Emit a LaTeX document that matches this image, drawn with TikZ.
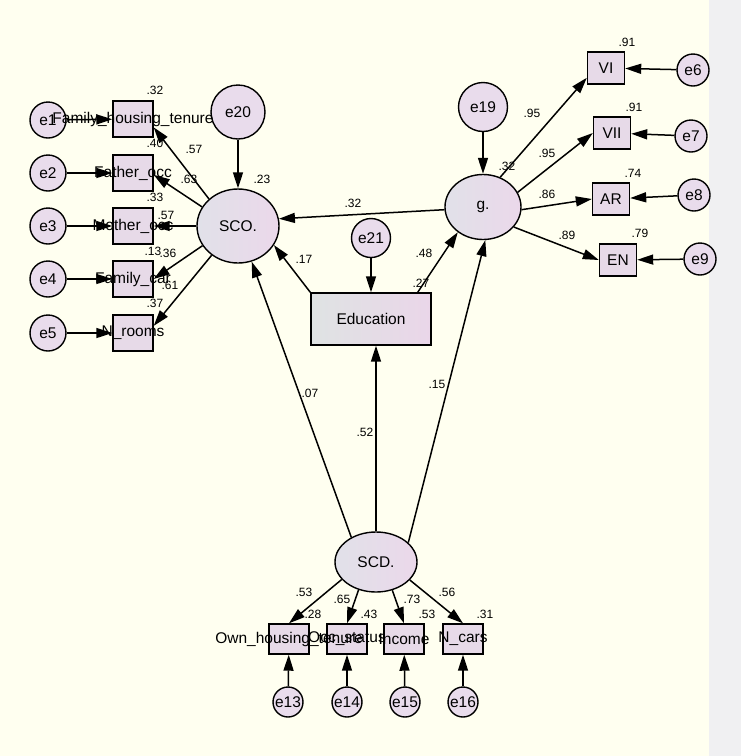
\documentclass[tikz,border=0pt]{standalone}
\usepackage{fontspec}
\setmainfont{Liberation Sans}
\usetikzlibrary{arrows.meta,shapes.geometric,calc}
\definecolor{bgy}{HTML}{FFFFF0}
\definecolor{bgg}{HTML}{F0F0F2}
\definecolor{latL}{HTML}{E1E1E9}
\definecolor{latR}{HTML}{EBD8EA}
\definecolor{boxL}{HTML}{DFE3E3}
\definecolor{boxR}{HTML}{EAD6E9}
\definecolor{errC}{HTML}{E9DCEC}
\definecolor{obsC}{HTML}{E7DAE8}
\begin{document}
\begin{tikzpicture}[x=1pt,y=-1pt,
  every node/.style={font=\fontsize{15.5}{18}\selectfont, inner sep=0pt},
  err/.style={circle,draw,line width=1.4pt,fill=errC,minimum size=#1},
  obsbox/.style={rectangle,draw,line width=1.4pt,fill=obsC},
  lat/.style={ellipse,draw,line width=1.4pt,left color=latL,right color=latR},
  arr/.style={-{Triangle[length=16pt,width=10pt]},line width=1.5pt},
  lbl/.style={font=\fontsize{12}{14}\selectfont}
]
\fill[bgy] (0,0) rectangle (709,756);
\fill[bgg] (709,0) rectangle (741,756);
\useasboundingbox (0,0) rectangle (741,756);

% error terms
\node[err=36] (e1) at (48,120) {e1};
\node[err=36] (e2) at (48,173) {e2};
\node[err=36] (e3) at (48,226) {e3};
\node[err=36] (e4) at (48,279) {e4};
\node[err=36] (e5) at (48,333) {e5};
\node[err=54] (e20) at (238,112) {e20};
\node[err=39] (e21) at (371,238) {e21};
\node[err=49] (e19) at (483,107) {e19};
\node[err=32] (e6) at (693,70) {e6};
\node[err=32] (e7) at (691,136) {e7};
\node[err=32] (e8) at (694,195) {e8};
\node[err=32] (e9) at (700,259) {e9};
\node[err=30] (e13) at (288,702) {e13};
\node[err=30] (e14) at (347,702) {e14};
\node[err=30] (e15) at (405,702) {e15};
\node[err=30] (e16) at (463,702) {e16};

% observed boxes (shapes)
\begin{scope}[every node/.append style={obsbox,minimum width=40pt,minimum height=36pt}]
\node (FHT) at (133,119) {};
\node (FO) at (133,173) {};
\node (MO) at (133,226) {};
\node (FC) at (133,279) {};
\node (NR) at (133,333) {};
\end{scope}
\begin{scope}[every node/.append style={obsbox,minimum width=37pt,minimum height=32pt}]
\node (VI) at (606,68) {};
\node (VII) at (612,133) {};
\node (AR) at (611,199) {};
\node (EN) at (618,260) {};
\end{scope}
\begin{scope}[every node/.append style={obsbox,minimum width=40pt,minimum height=30pt}]
\node (OHT) at (289,639) {};
\node (OS) at (347,639) {};
\node (INC) at (404,639) {};
\node (NC) at (463,639) {};
\end{scope}
\node[rectangle,draw,line width=1.4pt,left color=boxL,right color=boxR,minimum width=120pt,minimum height=52pt] (Edu) at (371,319) {Education};

% latent variables
\node[lat,minimum width=82pt,minimum height=74pt] (SCO) at (238,226) {SCO.};
\node[lat,minimum width=76pt,minimum height=65pt] (g) at (483,207) {g.};
\node[lat,minimum width=82pt,minimum height=60pt] (SCD) at (376,562) {SCD.};

% texts of observed boxes
\node (tFHT) at (FHT.center) {Family\_housing\_tenure};
\node (tFO) at (FO.center) {Father\_occ};
\node (tMO) at (MO.center) {Mother\_occ};
\node (tFC) at (FC.center) {Family\_car};
\node (tNR) at (NR.center) {N\_rooms};
\node (tVI) at (VI.center) {VI};
\node (tVII) at (VII.center) {VII};
\node (tAR) at (AR.center) {AR};
\node (tEN) at (EN.center) {EN};
\node (tOHT) at (OHT.center) {Own\_housing\_tenure};
\node (tOS) at (OS.center) {Occ\_status};
\node (tINC) at (INC.center) {Income};
\node (tNC) at (NC.center) {N\_cars};

% arrows: errors
\draw[arr] (e1) -- (FHT);
\draw[arr] (e2) -- (FO);
\draw[arr] (e3) -- (MO);
\draw[arr] (e4) -- (FC);
\draw[arr] (e5) -- (NR);
\draw[arr] (e20) -- (SCO);
\draw[arr] (e21) -- (Edu);
\draw[arr] (e19) -- (g);
\draw[arr] (e6) -- (VI);
\draw[arr] (e7) -- (VII);
\draw[arr] (e8) -- (AR);
\draw[arr] (e9) -- (EN);
\draw[arr] (e13) -- (OHT);
\draw[arr] (e14) -- (OS);
\draw[arr] (e15) -- (INC);
\draw[arr] (e16) -- (NC);

% arrows: loadings
\draw[arr] (SCO.137) -- (FHT.-22);
\draw[arr] (SCO.152) -- (FO.-5);
\draw[arr] (SCO.west) -- (MO.east);
\draw[arr] (SCO.209) -- (FC.east);
\draw[arr] (SCO.228) -- (NR.19);
\draw[arr] (g.60) -- (VI.207);
\draw[arr] (g.23) -- (VII.west);
\draw[arr] (g.-4) -- (AR.west);
\draw[arr] (g.-33) -- (EN.west);
\draw[arr] (SCD.207) -- (OHT.north);
\draw[arr] (SCD.238) -- (OS.north);
\draw[arr] (SCD.-60) -- (INC.north);
\draw[arr] (SCD.-28) -- (NC.north);

% structural paths
\draw[arr] (g.184) -- (SCO.10);
\draw[arr] (Edu.north west) -- (SCO.-28);
\draw[arr] ($(Edu.north east)+(-14,0)$) -- (g.-135);
\draw[arr] (SCD.135) -- (SCO.-69);
\draw[arr] (SCD.31) -- (g.-86);
\draw[arr] (SCD.north) -- (SCD.north |- Edu.south);

% labels
\begin{scope}[every node/.append style={lbl}]
\node (l1) at (155,90) {.32};
\node (l2) at (155,143) {.40};
\node (l3) at (155,197) {.33};
\node (l4) at (153,251) {.13};
\node (l5) at (168,253) {.36};
\node (l6) at (155,303) {.37};
\node (l7) at (194,149) {.57};
\node (l8) at (189,179) {.63};
\node (l9) at (166,215) {.57};
\node (l10) at (170,285) {.61};
\node (l11) at (262,179) {.23};
\node (l12) at (353,203) {.32};
\node (l13) at (304,259) {.17};
\node (l14) at (424,253) {.48};
\node (l15) at (421,283) {.27};
\node (l16) at (507,166) {.32};
\node (l17) at (532,113) {.95};
\node (l18) at (547,153) {.95};
\node (l19) at (547,194) {.86};
\node (l20) at (567,235) {.89};
\node (l21) at (627,42) {.91};
\node (l22) at (634,107) {.91};
\node (l23) at (633,173) {.74};
\node (l24) at (640,233) {.79};
\node (l25) at (310,393) {.07};
\node (l26) at (365,432) {.52};
\node (l27) at (437,384) {.15};
\node (l28) at (304,592) {.53};
\node (l29) at (342,599) {.65};
\node (l30) at (412,599) {.73};
\node (l31) at (447,592) {.56};
\node (l32) at (313,614) {.28};
\node (l33) at (369,614) {.43};
\node (l34) at (427,614) {.53};
\node (l35) at (485,614) {.31};
\end{scope}
\end{tikzpicture}
\end{document}
